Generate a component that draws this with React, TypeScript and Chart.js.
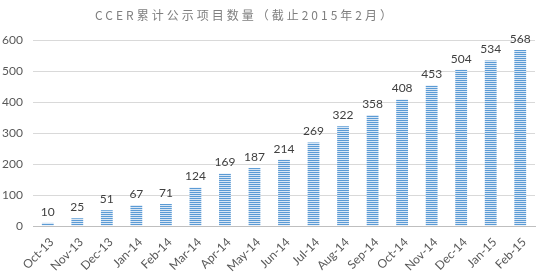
import React, { useEffect, useRef } from "react";
import { Chart, registerables } from "chart.js";

Chart.register(...registerables);

const categories = [
  "Oct-13", "Nov-13", "Dec-13", "Jan-14", "Feb-14", "Mar-14", "Apr-14", "May-14",
  "Jun-14", "Jul-14", "Aug-14", "Sep-14", "Oct-14", "Nov-14", "Dec-14", "Jan-15", "Feb-15",
];
const projectCounts = [10, 25, 51, 67, 71, 124, 169, 187, 214, 269, 322, 358, 408, 453, 504, 534, 568];
const yTicks = [0, 100, 200, 300, 400, 500, 600];
const titleText = "CCER累计公示项目数量（截止2015年2月）";

function makePattern(): CanvasPattern | string {
  const c = document.createElement("canvas");
  c.width = 4;
  c.height = 2;
  const g = c.getContext("2d");
  if (!g) return "#5b9bd5";
  g.fillStyle = "#5b9bd5";
  g.fillRect(0, 0, 4, 1);
  g.fillStyle = "#dae7f5";
  g.fillRect(0, 1, 4, 1);
  return g.createPattern(c, "repeat") || "#5b9bd5";
}

const labelPlugin = {
  id: "valueLabels",
  afterDatasetsDraw(chart: any) {
    const ctx = chart.ctx;
    const meta = chart.getDatasetMeta(0);
    const data = chart.data.datasets[0].data;
    ctx.save();
    ctx.font = "12px Lato, 'Liberation Sans', sans-serif";
    ctx.fillStyle = "#404040";
    ctx.textAlign = "center";
    ctx.textBaseline = "bottom";
    meta.data.forEach((el: any, i: number) => {
      ctx.fillText(String(data[i]), el.x, el.y - 5);
    });
    ctx.restore();
  },
};

const titlePlugin = {
  id: "spacedTitle",
  afterDraw(chart: any) {
    const ctx = chart.ctx;
    ctx.save();
    ctx.font = "12px 'Noto Sans CJK SC', sans-serif";
    (ctx as any).letterSpacing = "3px";
    ctx.fillStyle = "#7f7f7f";
    ctx.textAlign = "left";
    ctx.textBaseline = "middle";
    const w = ctx.measureText(titleText).width;
    ctx.fillText(titleText, 245 - w / 2, 15);
    ctx.restore();
  },
};

export default function App() {
  const ref = useRef<HTMLCanvasElement | null>(null);
  useEffect(() => {
    document.body.style.margin = "0";
    if (!ref.current) return;
    const chart = new Chart(ref.current, {
      type: "bar",
      data: {
        labels: categories,
        datasets: [
          {
            data: projectCounts,
            backgroundColor: makePattern() as any,
            borderWidth: 0,
            barPercentage: 0.4,
            categoryPercentage: 1,
          },
        ],
      },
      options: {
        animation: false,
        responsive: false,
        maintainAspectRatio: false,
        layout: { padding: { top: 40, right: 9, left: 0, bottom: 0 } },
        plugins: {
          legend: { display: false },
          title: { display: false },
          tooltip: { enabled: false },
        },
        scales: {
          x: {
            grid: { display: false, drawTicks: false },
            border: { color: "#bfbfbf", width: 1 },
            ticks: {
              color: "#595959",
              font: { size: 12, family: "Lato, 'Liberation Sans', sans-serif" },
              maxRotation: 45,
              minRotation: 45,
              autoSkip: false,
              padding: 9,
              labelOffset: 4,
            },
            afterFit: (s: any) => {
              s.height = 52;
            },
          },
          y: {
            min: 0,
            max: 600,
            afterBuildTicks: (s: any) => {
              s.ticks = yTicks.map((v) => ({ value: v }));
            },
            grid: { color: "#d9d9d9", drawTicks: false },
            border: { display: false },
            ticks: {
              color: "#595959",
              font: { size: 12, family: "Lato, 'Liberation Sans', sans-serif" },
              padding: 10,
            },
            afterFit: (s: any) => {
              s.width = 33;
            },
          },
        },
      },
      plugins: [labelPlugin, titlePlugin],
    });
    return () => chart.destroy();
  }, []);
  return (
    <div style={{ position: "relative", width: 544, height: 278 }}>
      <canvas ref={ref} width={544} height={278} style={{ width: 544, height: 278, display: "block" }} />
    </div>
  );
}
